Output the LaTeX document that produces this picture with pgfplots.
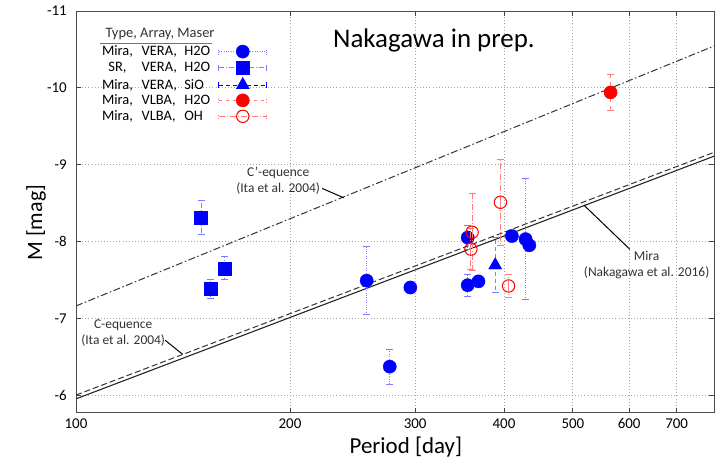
\documentclass[border=0pt]{standalone}
\usepackage{fontspec}
\setmainfont{Carlito}
\usepackage{pgfplots}
\pgfplotsset{compat=1.18}

\definecolor{mblue}{RGB}{0,0,255}
\definecolor{ebblue}{RGB}{125,125,255}
\definecolor{mred}{RGB}{255,0,0}
\definecolor{ebred}{RGB}{255,125,125}
\definecolor{gridgray}{RGB}{165,165,165}
\definecolor{txtgray}{RGB}{50,50,50}

\pgfplotsset{
  % legend sample: error-bar line with end caps and the marker in the middle
  leg h2o/.style={legend image code/.code={
    \draw[ebblue, line width=0.9bp, dash pattern=on 0.8bp off 1.6bp] (0bp,0bp) -- (48bp,0bp);
    \draw[ebblue, line width=0.9bp, dash pattern=on 0.8bp off 1.2bp] (0bp,-3bp) -- (0bp,3bp) (48bp,-3bp) -- (48bp,3bp);
    \draw[mark repeat=2,mark phase=2,##1] plot coordinates {(0bp,0bp)(24bp,0bp)(48bp,0bp)};}},
  leg sr/.style={legend image code/.code={
    \draw[ebblue, line width=0.9bp, dash pattern=on 5bp off 2bp on 1bp off 2bp] (0bp,0bp) -- (48bp,0bp);
    \draw[ebblue, line width=0.9bp] (0bp,-3bp) -- (0bp,3bp) (48bp,-3bp) -- (48bp,3bp);
    \draw[mark repeat=2,mark phase=2,##1] plot coordinates {(0bp,0bp)(24bp,0bp)(48bp,0bp)};}},
  leg sio/.style={legend image code/.code={
    \draw[mblue, line width=0.9bp, dash pattern=on 4bp off 3bp] (0bp,0bp) -- (48bp,0bp);
    \draw[mblue, line width=0.9bp] (0bp,-3bp) -- (0bp,3bp) (48bp,-3bp) -- (48bp,3bp);
    \draw[mark repeat=2,mark phase=2,##1] plot coordinates {(0bp,0bp)(24bp,0bp)(48bp,0bp)};}},
  leg vh2o/.style={legend image code/.code={
    \draw[ebred, line width=0.9bp, dash pattern=on 3bp off 4bp] (0bp,0bp) -- (48bp,0bp);
    \draw[ebred, line width=0.9bp, dash pattern=on 1.5bp off 1.5bp] (0bp,-3bp) -- (0bp,3bp) (48bp,-3bp) -- (48bp,3bp);
    \draw[mark repeat=2,mark phase=2,##1] plot coordinates {(0bp,0bp)(24bp,0bp)(48bp,0bp)};}},
  leg oh/.style={legend image code/.code={
    \draw[ebred, line width=0.9bp, dash pattern=on 6bp off 2bp on 1bp off 2bp] (0bp,0bp) -- (48bp,0bp);
    \draw[ebred, line width=0.9bp, dash pattern=on 1.5bp off 1.5bp] (0bp,-3bp) -- (0bp,3bp) (48bp,-3bp) -- (48bp,3bp);
    \draw[mark repeat=2,mark phase=2,##1] plot coordinates {(0bp,0bp)(24bp,0bp)(48bp,0bp)};}},
}

\newcommand{\lgd}[3]{\makebox[28.4bp][c]{#1}\hspace{10bp}\makebox[42.6bp][l]{#2}\makebox[32bp][l]{#3}}

\begin{document}
\begin{tikzpicture}
\begin{axis}[
  name=ax,
  width=638bp, height=401.7bp, scale only axis,
  xmode=log, log basis x=10,
  xmin=100, xmax=790,
  ymin=-11, ymax=-5.77, y dir=reverse,
  xtick={100,200,300,400,500,600,700},
  xticklabels={100,200,300,400,500,600,700},
  xminorticks=false,
  ytick={-11,-10,-9,-8,-7,-6},
  yticklabels={-11,-10,-9,-8,-7,-6},
  tick align=inside,
  major tick length=5bp,
  tick style={black!75, line width=0.8bp},
  axis line style={black!70, line width=0.9bp},
  grid=major,
  major grid style={gridgray, line width=0.8bp, dash pattern=on 0.9bp off 2.2bp},
  xticklabel style={font=\fontsize{15}{17}\selectfont, inner sep=0pt, anchor=base, yshift=-15.8bp},
  yticklabel style={font=\fontsize{15}{17}\selectfont, inner sep=0pt, anchor=east, xshift=-9bp},
  xlabel={Period [day]},
  ylabel={M [mag]},
  xlabel style={font=\fontsize{23}{27}\selectfont, at={(rel axis cs:0.517,0)}, anchor=base, yshift=-40.3bp, inner sep=0pt},
  ylabel style={font=\fontsize{22}{26}\selectfont, at={([xshift=-34bp]rel axis cs:0,0.473)}, anchor=base, inner sep=0pt},
  legend style={draw=none, fill=none, at={(rel axis cs:0.0428,0.9154)}, anchor=north west,
    font=\fontsize{14.5}{16}\selectfont, inner sep=0pt, outer sep=0pt, row sep=3.1bp, column sep=2bp,
    nodes={inner sep=0pt}},
  legend plot pos=right,
  legend cell align=left,
  clip mode=individual,
]

% period--luminosity relations
\addplot[black!85, line width=1.1bp, forget plot] coordinates {(100,-5.95) (790,-9.1096)};
\addplot[black!80, line width=1bp, dash pattern=on 6bp off 3bp, forget plot] coordinates {(100,-6.00) (790,-9.1596)};
\addplot[black!80, line width=1bp, dash pattern=on 7bp off 2.5bp on 1.5bp off 2.5bp, forget plot] coordinates {(100,-7.16) (790,-10.544)};

% Mira, VERA, H2O
\addplot[leg h2o, only marks, mark=*, mark size=6.6bp, color=mblue, mark options={solid, fill=mblue, draw=mblue},
  error bars/.cd, y dir=both, y explicit,
  error bar style={ebblue, line width=0.9bp, dash pattern=on 0.8bp off 1.6bp},
  error mark options={ebblue, solid, rotate=90, mark size=3.5bp, line width=0.9bp}]
  table[x=P, y=M, y error=e] {
P M e
256.4 -7.49 0.44
276.3 -6.37 0.23
295.4 -7.40 0
355.7 -8.05 0.16
355.7 -7.43 0.14
368.3 -7.48 0
410.4 -8.07 0
429.0 -8.03 0.785
434.2 -7.95 0
};
\addlegendentry{\lgd{Mira,}{VERA,}{H2O}}

% SR, VERA, H2O
\addplot[leg sr, only marks, mark=square*, mark size=6.5bp, color=mblue, mark options={solid, fill=mblue, draw=mblue},
  error bars/.cd, y dir=both, y explicit,
  error bar style={ebblue, line width=0.9bp, dash pattern=on 5bp off 2bp on 1bp off 2bp},
  error mark options={ebblue, solid, rotate=90, mark size=3.5bp, line width=0.9bp}]
  table[x=P, y=M, y error=e] {
P M e
150.0 -8.31 0.22
161.8 -7.65 0.15
154.8 -7.38 0.12
};
\addlegendentry{\lgd{SR,}{VERA,}{H2O}}

% Mira, VERA, SiO
\addplot[leg sio, only marks, mark=triangle*, mark size=7.6bp, color=mblue, mark options={solid, fill=mblue, draw=mblue},
  error bars/.cd, y dir=both, y explicit,
  error bar style={ebblue, line width=0.9bp, dash pattern=on 4bp off 3bp},
  error mark options={ebblue, solid, rotate=90, mark size=3.5bp, line width=0.9bp}]
  table[x=P, y=M, y error=e] {
P M e
388.9 -7.69 0.36
};
\addlegendentry{\lgd{Mira,}{VERA,}{SiO}}

% Mira, VLBA, H2O
\addplot[leg vh2o, only marks, mark=*, mark size=6.6bp, color=mred, mark options={solid, fill=mred, draw=mred},
  error bars/.cd, y dir=both, y explicit,
  error bar style={ebred, line width=0.9bp, dash pattern=on 3bp off 4bp},
  error mark options={ebred, solid, rotate=90, mark size=3.5bp, line width=0.9bp}]
  table[x=P, y=M, y error=e] {
P M e
565.0 -9.94 0.235
};
\addlegendentry{\lgd{Mira,}{VLBA,}{H2O}}

% Mira, VLBA, OH
\addplot[leg oh, only marks, mark=o, mark size=6.2bp, color=mred, mark options={solid, draw=mred, line width=1bp},
  error bars/.cd, y dir=both, y explicit,
  error bar style={ebred, line width=0.9bp, dash pattern=on 6bp off 2bp on 1bp off 2bp},
  error mark options={ebred, solid, rotate=90, mark size=3.5bp, line width=0.9bp}]
  table[x=P, y=M, y error=e] {
P M e
360.8 -8.12 0.50
359.4 -7.90 0.27
395.6 -8.51 0.56
406.0 -7.42 0.155
};
\addlegendentry{\lgd{Mira,}{VLBA,}{OH}}

% legend header
\node[anchor=base, font=\fontsize{14.5}{16}\selectfont, text=txtgray, inner sep=0pt] at (rel axis cs:0.1317,0.934) {Type,\ Array,\ Maser};
\draw[black!55, line width=0.9bp] (rel axis cs:0.0376,0.9196) -- (rel axis cs:0.2132,0.9196);

% title
\node[anchor=base, font=\fontsize{27}{32}\selectfont, inner sep=0pt] at (rel axis cs:0.561,0.908) {Nakagawa in prep.};

% annotations
\node[align=center, font=\fontsize{13.5}{16}\selectfont, text=txtgray, inner sep=0pt] at (axis cs:192.5,-8.786) {C'-equence\\(Ita et al. 2004)};
\draw[black, line width=1bp] (axis cs:221.9,-8.691) -- (axis cs:238,-8.568);
\node[align=center, font=\fontsize{13.5}{16}\selectfont, text=txtgray, inner sep=0pt] at (axis cs:116.5,-6.804) {C-equence\\(Ita et al. 2004)};
\draw[black, line width=1bp] (axis cs:133.5,-6.713) -- (axis cs:141.2,-6.531);
\node[align=center, font=\fontsize{13.5}{16}\selectfont, text=txtgray, inner sep=0pt] at (axis cs:635,-7.691) {Mira\\(Nakagawa et al. 2016)};
\draw[black, line width=1bp] (axis cs:518.2,-8.473) -- (axis cs:601.6,-7.896);
\end{axis}
\pgfresetboundingbox
\path ([shift={(-76bp,-48.3bp)}]ax.south west) rectangle ([shift={(1bp,11bp)}]ax.north east);
\end{tikzpicture}
\end{document}
